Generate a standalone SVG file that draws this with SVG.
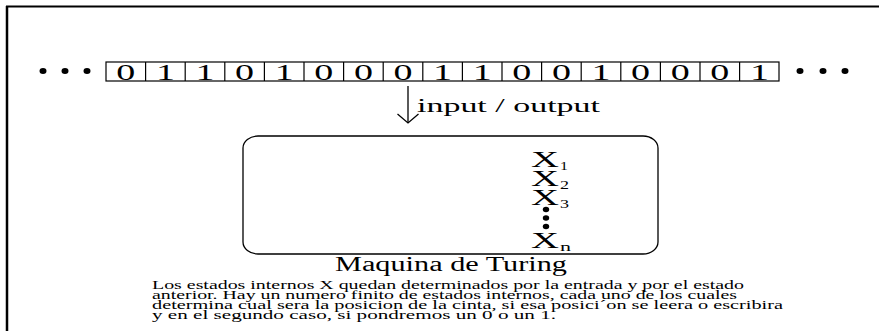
<svg xmlns="http://www.w3.org/2000/svg" width="879" height="331" viewBox="0 0 879 331">
<style>
.t{font-family:"Liberation Serif","Times New Roman",serif;fill:#000}
.cell{fill:#fff;stroke:#000;stroke-width:1.2}
.dot{fill:#000}
.ln{stroke:#000;fill:none}
</style>
<rect width="879" height="331" fill="#fff"/>
<g id="frame">
<line class="ln" x1="6" y1="6.5" x2="879" y2="6.5" stroke-width="2"/>
<line class="ln" x1="7" y1="6" x2="7" y2="331" stroke-width="2.5"/>
</g>
<g id="tape">
<ellipse class="dot" cx="43" cy="71" rx="3.5" ry="3"/>
<ellipse class="dot" cx="65" cy="71" rx="3.5" ry="3"/>
<ellipse class="dot" cx="87" cy="71" rx="3.5" ry="3"/>
<ellipse class="dot" cx="800" cy="71" rx="3.5" ry="3"/>
<ellipse class="dot" cx="823" cy="71" rx="3.5" ry="3"/>
<ellipse class="dot" cx="845" cy="71" rx="3.5" ry="3"/>
<rect class="cell" x="106" y="62" width="673" height="19"/>
<g class="ln" stroke-width="1.2">
<line x1="145.6" y1="62" x2="145.6" y2="81"/>
<line x1="185.2" y1="62" x2="185.2" y2="81"/>
<line x1="224.8" y1="62" x2="224.8" y2="81"/>
<line x1="264.4" y1="62" x2="264.4" y2="81"/>
<line x1="304" y1="62" x2="304" y2="81"/>
<line x1="343.6" y1="62" x2="343.6" y2="81"/>
<line x1="383.2" y1="62" x2="383.2" y2="81"/>
<line x1="422.8" y1="62" x2="422.8" y2="81"/>
<line x1="462.4" y1="62" x2="462.4" y2="81"/>
<line x1="502" y1="62" x2="502" y2="81"/>
<line x1="541.6" y1="62" x2="541.6" y2="81"/>
<line x1="581.2" y1="62" x2="581.2" y2="81"/>
<line x1="620.8" y1="62" x2="620.8" y2="81"/>
<line x1="660.4" y1="62" x2="660.4" y2="81"/>
<line x1="700" y1="62" x2="700" y2="81"/>
<line x1="739.6" y1="62" x2="739.6" y2="81"/>
</g>
<g class="t" font-size="24" text-anchor="middle">
<text x="125.8" y="79.5" textLength="19" lengthAdjust="spacingAndGlyphs">0</text>
<text x="165.4" y="79.5" textLength="19" lengthAdjust="spacingAndGlyphs">1</text>
<text x="205" y="79.5" textLength="19" lengthAdjust="spacingAndGlyphs">1</text>
<text x="244.6" y="79.5" textLength="19" lengthAdjust="spacingAndGlyphs">0</text>
<text x="284.2" y="79.5" textLength="19" lengthAdjust="spacingAndGlyphs">1</text>
<text x="323.8" y="79.5" textLength="19" lengthAdjust="spacingAndGlyphs">0</text>
<text x="363.4" y="79.5" textLength="19" lengthAdjust="spacingAndGlyphs">0</text>
<text x="403" y="79.5" textLength="19" lengthAdjust="spacingAndGlyphs">0</text>
<text x="442.6" y="79.5" textLength="19" lengthAdjust="spacingAndGlyphs">1</text>
<text x="482.2" y="79.5" textLength="19" lengthAdjust="spacingAndGlyphs">1</text>
<text x="521.8" y="79.5" textLength="19" lengthAdjust="spacingAndGlyphs">0</text>
<text x="561.4" y="79.5" textLength="19" lengthAdjust="spacingAndGlyphs">0</text>
<text x="601" y="79.5" textLength="19" lengthAdjust="spacingAndGlyphs">1</text>
<text x="640.6" y="79.5" textLength="19" lengthAdjust="spacingAndGlyphs">0</text>
<text x="680.2" y="79.5" textLength="19" lengthAdjust="spacingAndGlyphs">0</text>
<text x="719.8" y="79.5" textLength="19" lengthAdjust="spacingAndGlyphs">0</text>
<text x="759.4" y="79.5" textLength="19" lengthAdjust="spacingAndGlyphs">1</text>
</g>
</g>
<g id="connectors">
<line class="ln" x1="408" y1="86" x2="408" y2="123" stroke-width="1.3"/>
<polyline class="ln" points="397.5,114 408,123 418.5,114" stroke-width="1.3"/>
<text class="t" x="417" y="112" font-size="19" textLength="183" lengthAdjust="spacingAndGlyphs">input / output</text>
</g>
<g id="machine">
<rect class="ln" x="243" y="136" width="415" height="118" rx="15" ry="12" stroke-width="1.3"/>
<g class="t">
<text x="531" y="167" font-size="23" textLength="28" lengthAdjust="spacingAndGlyphs">X</text>
<text x="560" y="170" font-size="13" textLength="8" lengthAdjust="spacingAndGlyphs">1</text>
<text x="531" y="186" font-size="23" textLength="28" lengthAdjust="spacingAndGlyphs">X</text>
<text x="560" y="189" font-size="13" textLength="9" lengthAdjust="spacingAndGlyphs">2</text>
<text x="531" y="205" font-size="23" textLength="28" lengthAdjust="spacingAndGlyphs">X</text>
<text x="560" y="208" font-size="13" textLength="9" lengthAdjust="spacingAndGlyphs">3</text>
<text x="531" y="248" font-size="23" textLength="28" lengthAdjust="spacingAndGlyphs">X</text>
<text x="560" y="251" font-size="13" textLength="11" lengthAdjust="spacingAndGlyphs">n</text>
</g>
<ellipse class="dot" cx="546" cy="209.5" rx="3.2" ry="2.7"/>
<ellipse class="dot" cx="546" cy="218" rx="3.2" ry="2.7"/>
<ellipse class="dot" cx="546" cy="226.5" rx="3.2" ry="2.7"/>
</g>
<g id="caption" class="t">
<text x="335" y="271" font-size="20" textLength="232" lengthAdjust="spacingAndGlyphs">Maquina de Turing</text>
<g font-size="11.5">
<text x="152" y="288.5" textLength="592" lengthAdjust="spacingAndGlyphs">Los estados internos X quedan determinados por la entrada y por el estado</text>
<text x="152" y="298.5" textLength="585" lengthAdjust="spacingAndGlyphs">anterior. Hay un numero finito de estados internos, cada uno de los cuales</text>
<text x="152" y="308.5" textLength="631" lengthAdjust="spacingAndGlyphs">determina cual sera la posicion de la cinta, si esa posici´on se leera o escribira</text>
<text x="152" y="318.5" textLength="404" lengthAdjust="spacingAndGlyphs">y en el segundo caso, si pondremos un 0 o un 1.</text>
</g>
</g>
</svg>
